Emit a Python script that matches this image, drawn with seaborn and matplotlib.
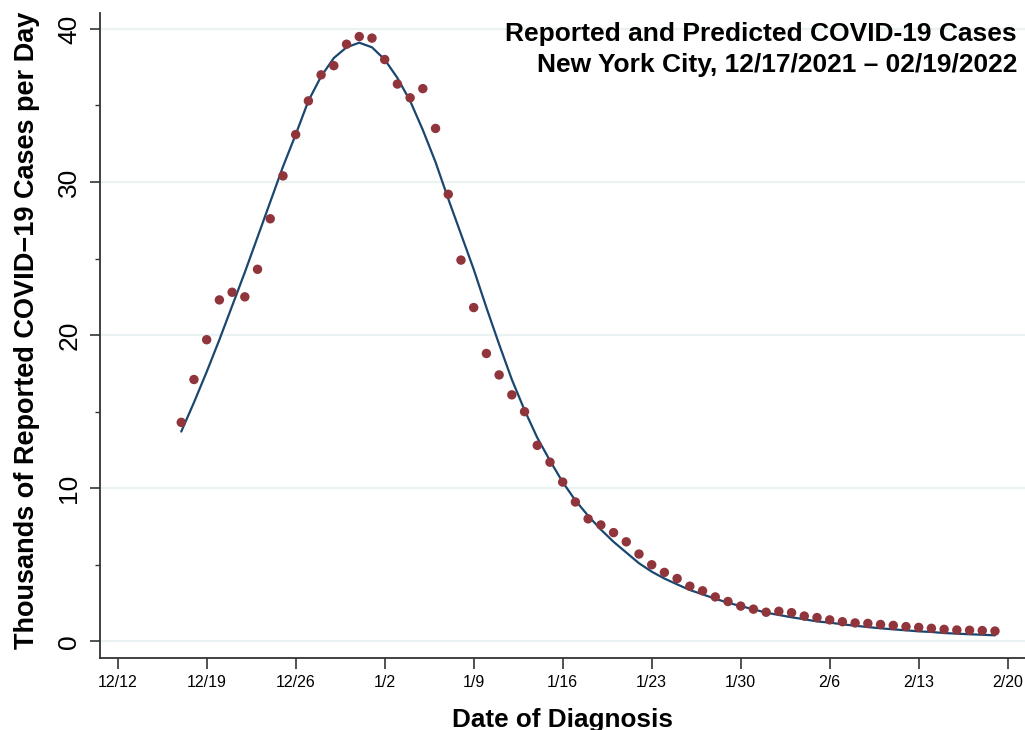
import matplotlib
matplotlib.use("Agg")
import matplotlib.pyplot as plt
import seaborn as sns
import pandas as pd

# daily reported cases (thousands), 12/17/2021 - 02/19/2022
reported = [14.3, 17.1, 19.7, 22.3, 22.8, 22.5, 24.3, 27.6, 30.4, 33.1,
            35.3, 37.0, 37.6, 39.0, 39.5, 39.4, 38.0, 36.4, 35.5, 36.1,
            33.5, 29.2, 24.9, 21.8, 18.8, 17.4, 16.1, 15.0, 12.8, 11.7,
            10.4, 9.1, 8.0, 7.6, 7.1, 6.5, 5.7, 5.0, 4.5, 4.1,
            3.6, 3.3, 2.9, 2.6, 2.3, 2.1, 1.9, 1.96, 1.87, 1.65,
            1.55, 1.4, 1.28, 1.2, 1.17, 1.1, 1.04, 0.96, 0.91, 0.85,
            0.78, 0.74, 0.72, 0.70, 0.67]

# fitted / predicted curve (thousands)
predicted = [13.7, 15.6, 17.6, 19.7, 21.9, 24.1, 26.4, 28.7, 31.0, 33.1,
             35.3, 36.9, 38.1, 38.8, 39.1, 38.8, 38.0, 36.8, 35.3, 33.4,
             31.3, 28.9, 26.6, 24.3, 21.8, 19.4, 17.1, 15.1, 13.3, 11.8,
             10.4, 9.2, 8.2, 7.3, 6.5, 5.8, 5.1, 4.55, 4.1, 3.72,
             3.35, 3.07, 2.78, 2.52, 2.30, 2.09, 1.87, 1.72, 1.57, 1.44,
             1.30, 1.22, 1.11, 1.02, 0.93, 0.85, 0.78, 0.72, 0.65, 0.61,
             0.54, 0.50, 0.46, 0.43, 0.39]

start_date = "2021-12-17"
tick_dates = ["2021-12-12", "2021-12-19", "2021-12-26", "2022-01-02", "2022-01-09",
              "2022-01-16", "2022-01-23", "2022-01-30", "2022-02-06", "2022-02-13",
              "2022-02-20"]
tick_labels = ["12/12", "12/19", "12/26", "1/2", "1/9", "1/16", "1/23",
               "1/30", "2/6", "2/13", "2/20"]
y_ticks = [0, 10, 20, 30, 40]

df = pd.DataFrame({
    "date": pd.date_range(start_date, periods=len(reported), freq="D"),
    "reported": reported,
    "predicted": predicted,
})

sns.set_style("white")
plt.rcParams["font.family"] = ["Liberation Sans", "DejaVu Sans"]
plt.rcParams["text.color"] = "black"
plt.rcParams["xtick.color"] = "black"
plt.rcParams["ytick.color"] = "black"

fig = plt.figure(figsize=(10.25, 7.3), dpi=100)
ax = fig.add_axes([100 / 1025, 72 / 730, 925 / 1025, 645 / 730])

navy = "#1A476F"
cranberry = "#90353B"

sns.lineplot(data=df, x="date", y="predicted", ax=ax, color=navy, linewidth=1.6, zorder=3)
sns.scatterplot(data=df, x="date", y="reported", ax=ax, color=cranberry, s=46,
                edgecolor="none", linewidth=0, zorder=4)

ref = pd.Timestamp("2021-12-12")
ax.set_xlim(ref - pd.Timedelta(days=1.39), ref + pd.Timedelta(days=71.36))
ax.set_ylim(-1.09, 41.04)

ax.set_xticks(pd.to_datetime(tick_dates))
ax.set_xticklabels(tick_labels, fontsize=11.5)
ax.set_yticks(y_ticks)
ax.set_yticklabels([str(v) for v in y_ticks], fontsize=19, rotation=90, va="center")
ax.set_yticks([5, 15, 25, 35], minor=True)

ax.tick_params(axis="x", which="major", length=8, width=1.2, color="#333333",
               direction="out", bottom=True, pad=4)
ax.tick_params(axis="y", which="major", length=7.5, width=1.2, color="#333333",
               direction="out", left=True, pad=6)
ax.tick_params(axis="y", which="minor", length=3.5, width=1.0, color="#333333",
               direction="out", left=True)

ax.grid(False)
for v in y_ticks:
    ax.axhline(v, color="#EAF2F3", linewidth=1.6, zorder=1)

for side in ["top", "right"]:
    ax.spines[side].set_visible(False)
for side in ["left", "bottom"]:
    ax.spines[side].set_color("#333333")
    ax.spines[side].set_linewidth(1.3)

ax.set_xlabel("")
ax.set_ylabel("")
fig.text(27 / 1025, 1 - 330 / 730, "Thousands of Reported COVID\u221219 Cases per Day",
         rotation=90, ha="center", va="center", fontsize=19.5, fontweight="bold")
fig.text(562 / 1025, 1 - 727 / 730, "Date of Diagnosis", ha="center", va="baseline",
         fontsize=18.8, fontweight="bold")

fig.text(1017 / 1025, 1 - 41 / 730, "Reported and Predicted COVID-19 Cases",
         ha="right", va="baseline", fontsize=19, fontweight="bold")
fig.text(1017 / 1025, 1 - 72 / 730, "New York City, 12/17/2021 \u2013 02/19/2022",
         ha="right", va="baseline", fontsize=19, fontweight="bold")

fig.savefig("out.png", dpi=100)
